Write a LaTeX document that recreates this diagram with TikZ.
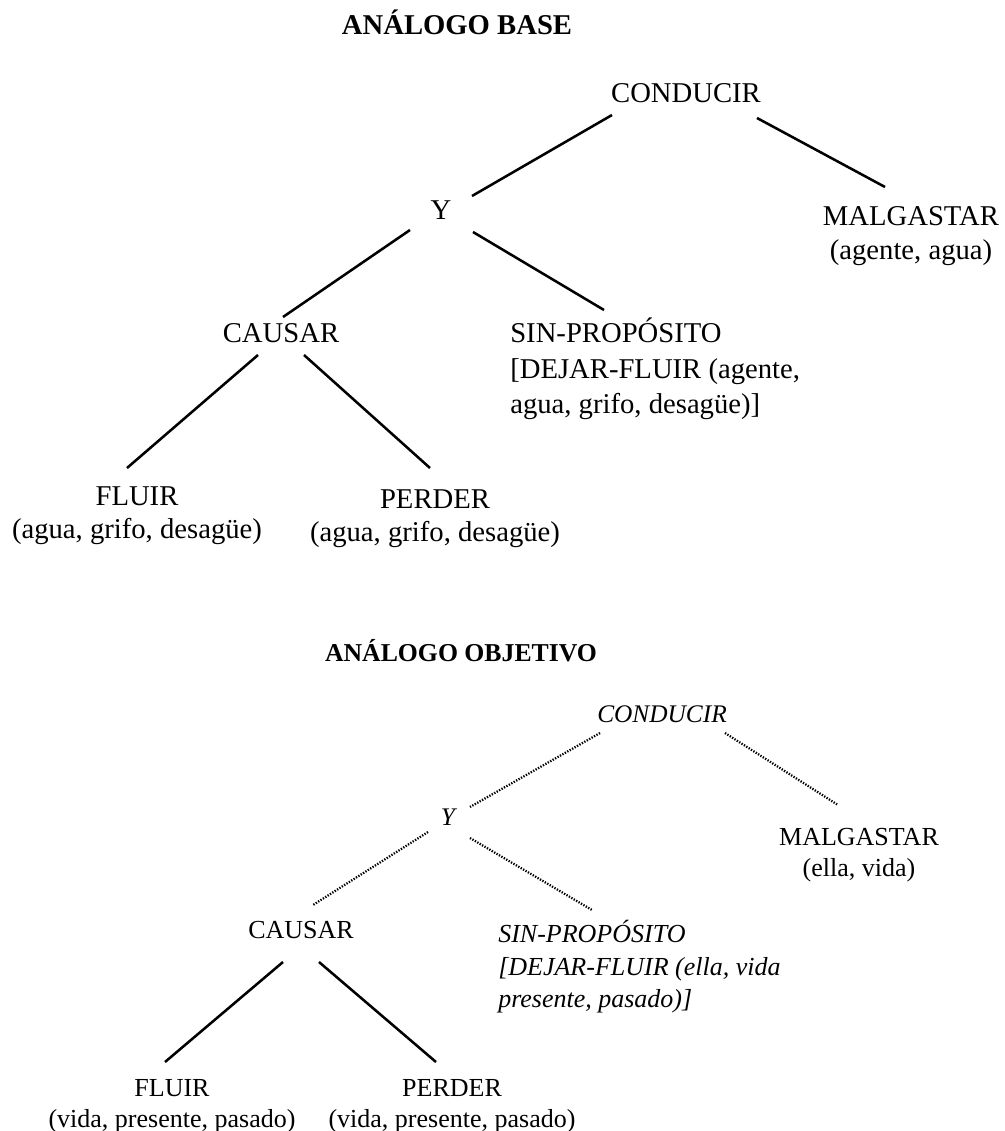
\documentclass[tikz,border=0pt]{standalone}
\usepackage{fontspec}
\setmainfont{Liberation Serif}
\begin{document}
\begin{tikzpicture}[x=0.75pt,y=-0.75pt,
  up/.style={font=\fontsize{21.5}{25}\selectfont, inner sep=0pt, align=center},
  lo/.style={font=\fontsize{19.5}{23}\selectfont, inner sep=0pt, align=center},
  ttl/.style={font=\bfseries\fontsize{21.5}{25}\selectfont, inner sep=0pt},
  solidline/.style={line width=1.9pt},
  dotline/.style={line width=1.7pt, dash pattern=on 1pt off 1.1pt}]
\useasboundingbox (0,0) rectangle (1004,1131);
% ---------- upper tree ----------
\node[ttl] (t1) at (457,22) {ANÁLOGO BASE};
\node[up] (cond1) at (686,93) {CONDUCIR};
\node[up] (y1) at (441,210) {Y};
\node[up] (mal1) at (911,236) {MALGASTAR\\(agente, agua)};
\node[up] (cau1) at (281,333) {CAUSAR};
\node[up, align=left, anchor=north west, font=\fontsize{21.5}{26.5}\selectfont] (sin1) at (510,318) {SIN-PROPÓSITO\\ {}[DEJAR-FLUIR (agente,\\agua, grifo, desagüe)]};
\node[up] (flu1) at (137,516) {FLUIR\\(agua, grifo, desagüe)};
\node[up] (per1) at (435,519) {PERDER\\(agua, grifo, desagüe)};
\coordinate (a1) at (612,115); \coordinate (a2) at (472,196);
\coordinate (b1) at (757,118); \coordinate (b2) at (885,187);
\coordinate (c1) at (410,230); \coordinate (c2) at (283,317);
\coordinate (d1) at (473,232); \coordinate (d2) at (604,310);
\coordinate (e1) at (258,355); \coordinate (e2) at (127,468);
\coordinate (f1) at (304,355); \coordinate (f2) at (430,468);
\draw[solidline] (a1) -- (a2);
\draw[solidline] (b1) -- (b2);
\draw[solidline] (c1) -- (c2);
\draw[solidline] (d1) -- (d2);
\draw[solidline] (e1) -- (e2);
\draw[solidline] (f1) -- (f2);
% ---------- lower tree ----------
\node[ttl, font=\bfseries\fontsize{19.3}{23}\selectfont] (t2) at (461,651) {ANÁLOGO OBJETIVO};
\node[lo, font=\itshape\fontsize{19}{23}\selectfont] (cond2) at (662,714) {CONDUCIR};
\node[lo, font=\itshape\fontsize{19}{23}\selectfont] (y2) at (448,817) {Y};
\node[lo] (mal2) at (859,855) {MALGASTAR\\(ella, vida)};
\node[lo] (cau2) at (301,930) {CAUSAR};
\node[lo, align=left, anchor=north west, font=\itshape\fontsize{19.5}{24.5}\selectfont] (sin2) at (498,920) {SIN-PROPÓSITO\\ {}[DEJAR-FLUIR (ella, vida\\presente, pasado)]};
\node[lo] (flu2) at (172,1106) {FLUIR\\(vida, presente, pasado)};
\node[lo] (per2) at (452,1106) {PERDER\\(vida, presente, pasado)};
\coordinate (g1) at (600,733); \coordinate (g2) at (470,807);
\coordinate (h1) at (725,733); \coordinate (h2) at (838,805);
\coordinate (i1) at (428,832); \coordinate (i2) at (313,905);
\coordinate (j1) at (470,838); \coordinate (j2) at (592,910);
\coordinate (k1) at (283,962); \coordinate (k2) at (165,1062);
\coordinate (l1) at (319,962); \coordinate (l2) at (436,1062);
\draw[dotline] (g1) -- (g2);
\draw[dotline] (h1) -- (h2);
\draw[dotline] (i1) -- (i2);
\draw[dotline] (j1) -- (j2);
\draw[solidline] (k1) -- (k2);
\draw[solidline] (l1) -- (l2);
\end{tikzpicture}
\end{document}
